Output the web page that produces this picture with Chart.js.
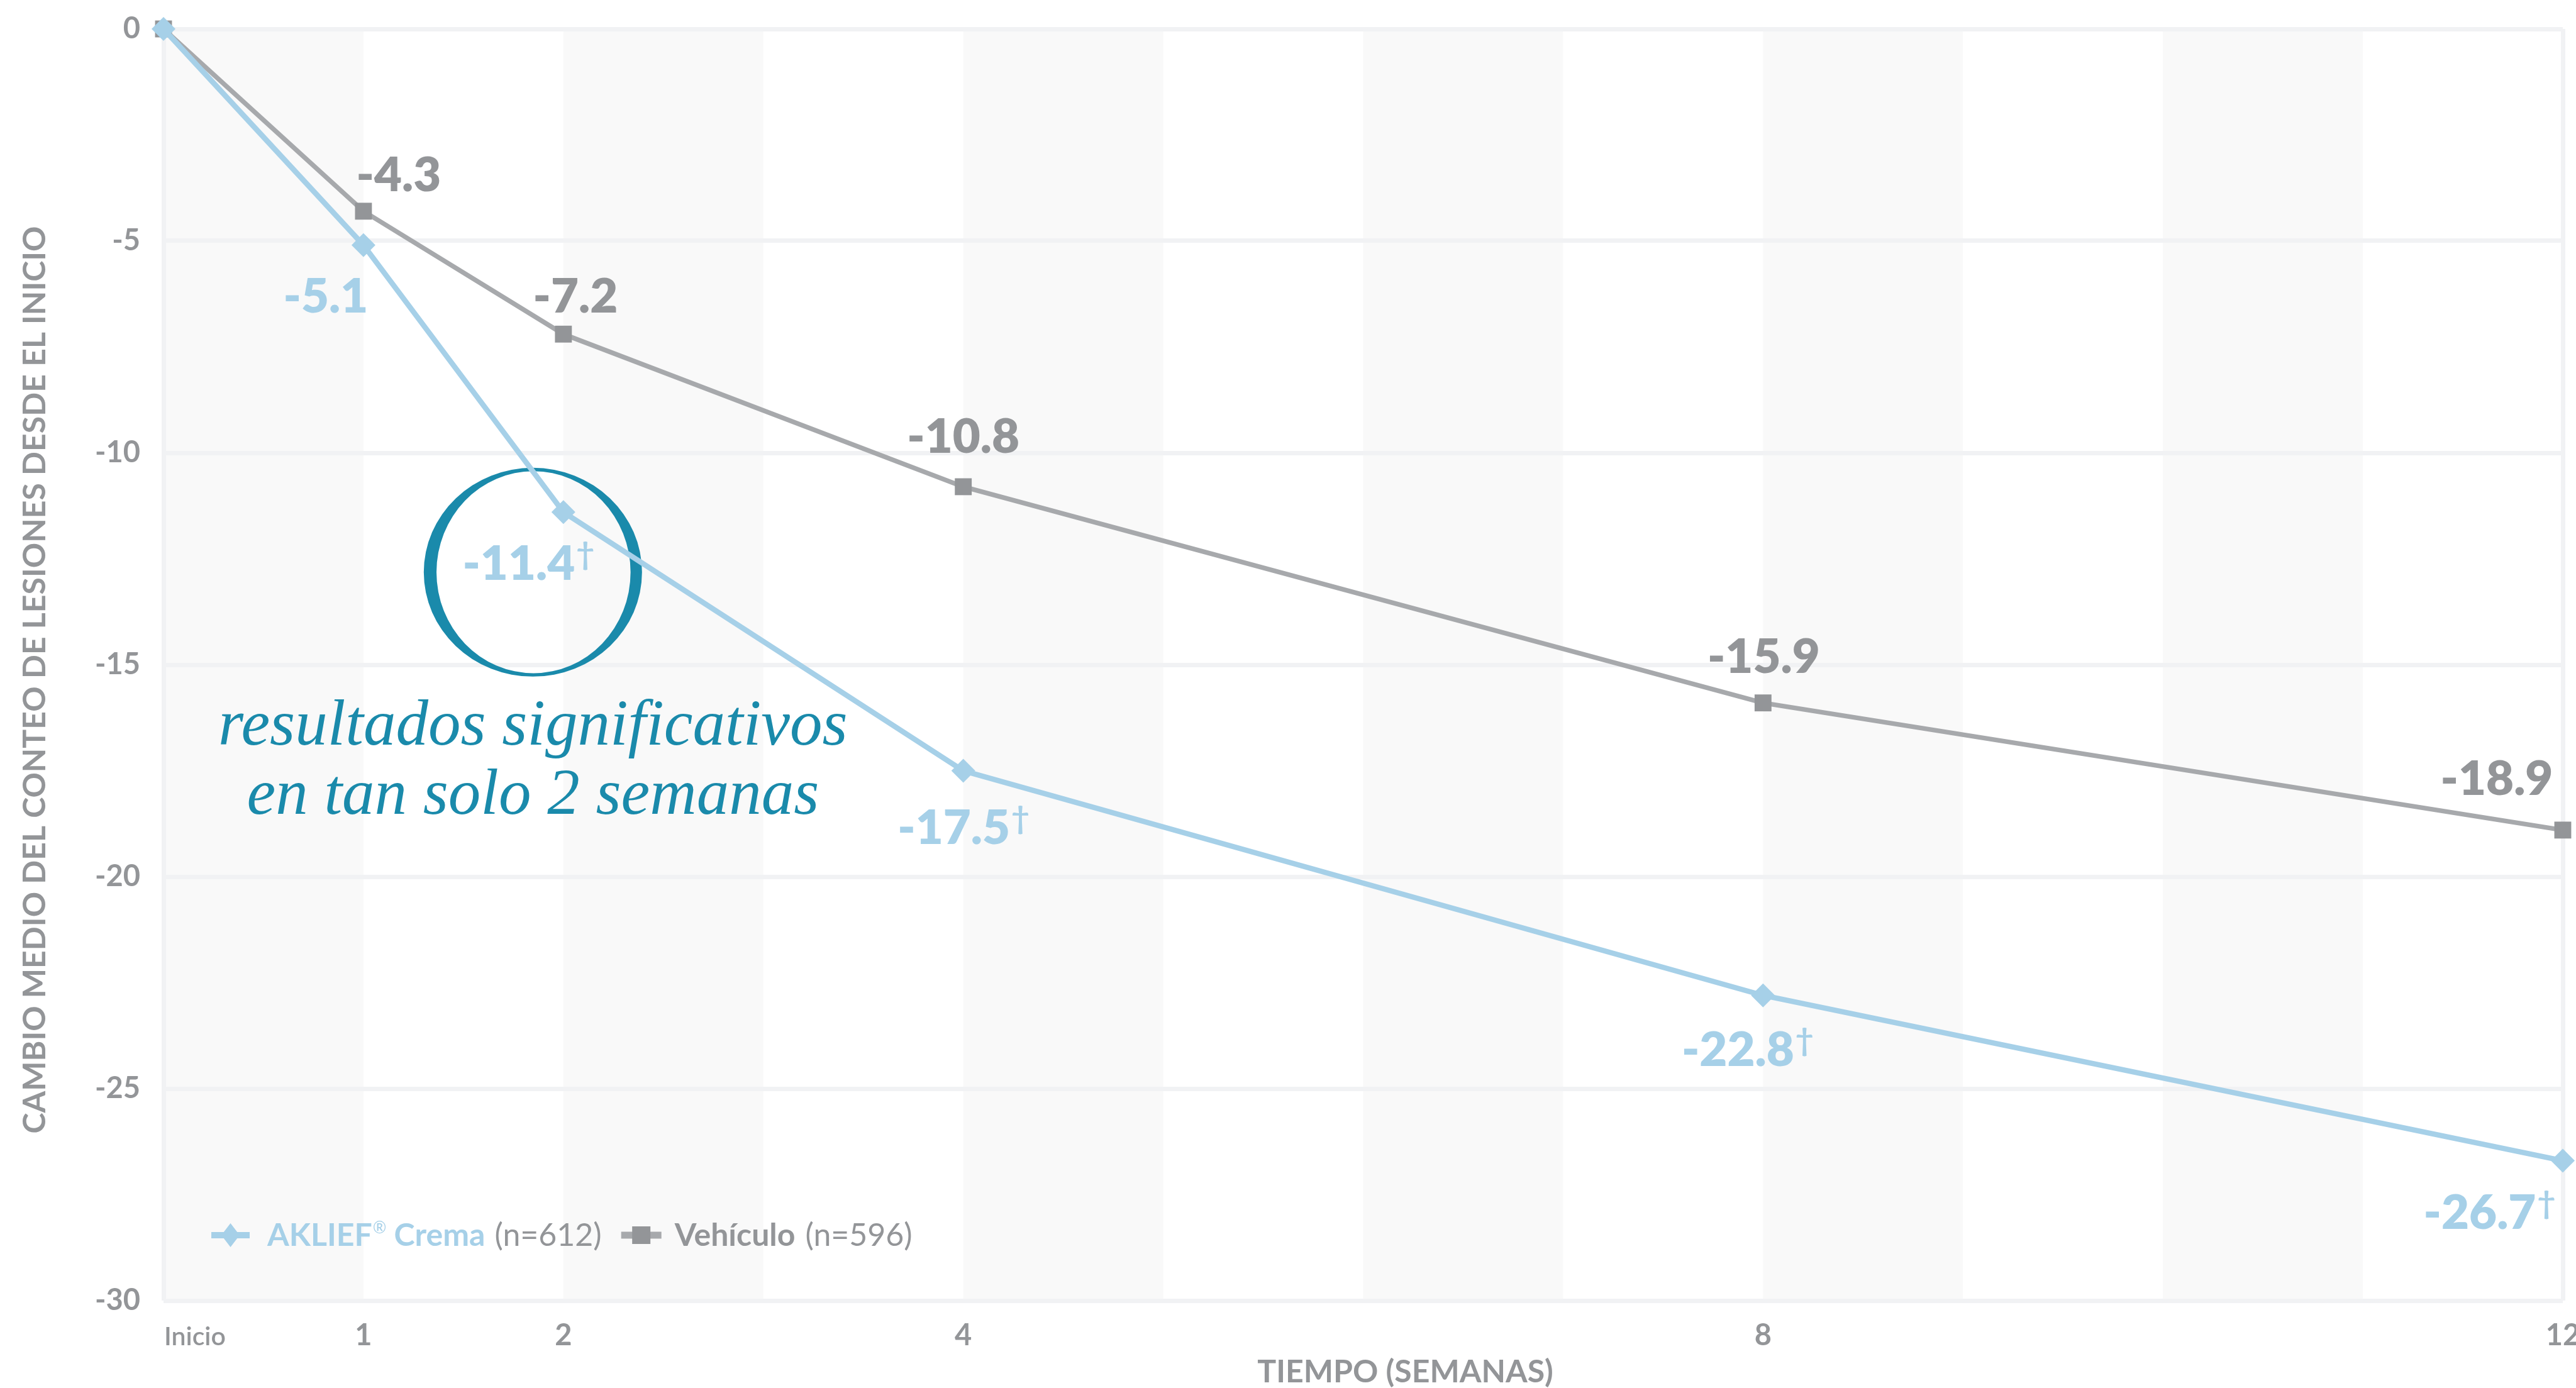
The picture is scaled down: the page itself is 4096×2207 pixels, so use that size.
<!DOCTYPE html>
<html><head><meta charset="utf-8">
<script src="https://cdn.jsdelivr.net/npm/chart.js@4.4.1/dist/chart.umd.min.js"></script>
<style>html,body{margin:0;padding:0;background:#fff;overflow:hidden}canvas{display:block}</style>
</head><body>
<canvas id="c" width="4096" height="2207" style="width:4096px;height:2207px"></canvas>
<script>
// ---- data ----
const weeks = [0, 1, 2, 4, 8, 12];
const xTickLabels = ['Inicio', '1', '2', '4', '8', '12'];
const yTickValues = [0, -5, -10, -15, -20, -25, -30];
const akliefValues = [0, -5.1, -11.4, -17.5, -22.8, -26.7];
const vehiculoValues = [0, -4.3, -7.2, -10.8, -15.9, -18.9];
const akliefSignificant = [false, false, true, true, true, true];
const seriesNames = ['AKLIEF® Crema', 'Vehículo'];
const seriesCounts = ['(n=612)', '(n=596)'];
const xTitle = 'TIEMPO (SEMANAS)';
const yTitle = 'CAMBIO MEDIO DEL CONTEO DE LESIONES DESDE EL INICIO';
const calloutLines = ['resultados significativos', 'en tan solo 2 semanas'];

// ---- styles ----
const BLUE = '#a6d0e8';
const GRAY_LINE = '#a7a9ac';
const GRAY_MARK = '#939598';
const TEXT_GRAY = '#939598';
const TEAL = '#1a8aab';
const GRID = '#f1f2f4';
const STRIPE = '#f9f9f9';
const SANS = 'Lato, "Open Sans", sans-serif';
const SERIF = '"Liberation Serif", "DejaVu Serif", serif';

// label placement (pixel offsets from each point: [dx of number centre, dy of baseline])
const grayLabelOffsets = [null, [56, -32], [19, -34], [0, -54], [1, -48], [-105, -56]];
const blueLabelOffsets = [null, [-60, 107], [-71, 108], [-15, 116], [-40, 112], [-132, 108]];

const customPlugin = {
  id: 'custom',
  beforeDraw(chart) {
    const { ctx, chartArea: a, scales: { x } } = chart;
    ctx.save();
    ctx.fillStyle = STRIPE;
    for (let w = x.min; w < x.max; w += 2) {
      const x1 = x.getPixelForValue(w), x2 = x.getPixelForValue(w + 1);
      ctx.fillRect(x1, a.top, x2 - x1, a.bottom - a.top);
    }
    ctx.restore();
  },
  beforeDatasetsDraw(chart) {
    // callout ring around week-2 AKLIEF value
    const { ctx } = chart;
    const p = chart.getDatasetMeta(0).data[2];
    const cx = p.x - 48.5, cy = p.y + 95.5;
    ctx.save();
    ctx.fillStyle = TEAL;
    ctx.beginPath();
    ctx.ellipse(cx, cy, 173.5, 166, 0, 0, Math.PI * 2);
    ctx.moveTo(cx + 154.3, cy);
    ctx.ellipse(cx + 1, cy, 154.3, 160.6, 0, 0, Math.PI * 2);
    ctx.fill('evenodd');
    ctx.restore();
  },
  afterDatasetsDraw(chart) {
    const { ctx, chartArea: a, scales: { x } } = chart;
    ctx.save();
    // data labels
    const mBlue = chart.getDatasetMeta(0).data;
    const mGray = chart.getDatasetMeta(1).data;
    ctx.textBaseline = 'alphabetic';
    vehiculoValues.forEach((v, i) => {
      const off = grayLabelOffsets[i]; if (!off) return;
      const p = mGray[i];
      ctx.font = '800 76px ' + SANS;
      ctx.fillStyle = TEXT_GRAY;
      ctx.textAlign = 'center';
      ctx.fillText(v.toFixed(1), p.x + off[0], p.y + off[1]);
    });
    akliefValues.forEach((v, i) => {
      const off = blueLabelOffsets[i]; if (!off) return;
      const p = mBlue[i];
      const t = v.toFixed(1);
      ctx.font = '800 76px ' + SANS;
      ctx.fillStyle = BLUE;
      ctx.textAlign = 'center';
      const cxl = p.x + off[0], by = p.y + off[1];
      ctx.fillText(t, cxl, by);
      if (akliefSignificant[i]) {
        const w = ctx.measureText(t).width;
        ctx.font = '700 50px ' + SANS;
        ctx.textAlign = 'left';
        ctx.fillText('\u2020', cxl + w / 2 + 2, by - 24);
      }
    });
    // x tick labels
    const tickY = a.bottom + 71;
    weeks.forEach((w, i) => {
      const px = x.getPixelForValue(w);
      if (i === 0) {
        ctx.font = '600 41px ' + SANS; ctx.textAlign = 'left';
        ctx.fillStyle = TEXT_GRAY; ctx.fillText(xTickLabels[i], px + 1, tickY);
      } else {
        ctx.font = '700 47px ' + SANS; ctx.textAlign = 'center';
        ctx.fillStyle = TEXT_GRAY; ctx.fillText(xTickLabels[i], px, tickY);
      }
    });
    // x title
    ctx.font = '700 50px ' + SANS; ctx.textAlign = 'center'; ctx.fillStyle = TEXT_GRAY;
    ctx.fillText(xTitle, (a.left + a.right) / 2 + 67, a.bottom + 130);
    // y title
    ctx.save();
    ctx.translate(56, (a.top + a.bottom) / 2 + 24);
    ctx.rotate(-Math.PI / 2);
    ctx.font = '700 50px ' + SANS; ctx.textAlign = 'center'; ctx.textBaseline = 'middle';
    ctx.fillText(yTitle, 0, 0);
    ctx.restore();
    // legend
    ctx.textBaseline = 'alphabetic'; ctx.textAlign = 'left';
    let lx = a.left + 76; const ly = a.bottom - 87; const my = ly - 17;
    ctx.strokeStyle = BLUE; ctx.lineWidth = 10; ctx.lineCap = 'butt';
    ctx.beginPath(); ctx.moveTo(lx, my); ctx.lineTo(lx + 61, my); ctx.stroke();
    ctx.fillStyle = BLUE; ctx.beginPath();
    ctx.moveTo(lx + 30.5, my - 19); ctx.lineTo(lx + 45, my); ctx.lineTo(lx + 30.5, my + 19); ctx.lineTo(lx + 16, my); ctx.closePath(); ctx.fill();
    lx += 61 + 28;
    const nameParts = seriesNames[0].split('®');
    ctx.font = '700 50px ' + SANS; ctx.fillStyle = BLUE;
    ctx.fillText(nameParts[0], lx, ly); lx += ctx.measureText(nameParts[0]).width + 1;
    ctx.font = '400 26px ' + SANS; ctx.fillText('®', lx, ly - 20); lx += ctx.measureText('®').width;
    ctx.font = '700 50px ' + SANS; ctx.fillText(nameParts[1], lx, ly); lx += ctx.measureText(nameParts[1]).width + 15;
    ctx.font = '400 50px ' + SANS; ctx.fillStyle = TEXT_GRAY;
    ctx.fillText(seriesCounts[0], lx, ly); lx += ctx.measureText(seriesCounts[0]).width + 31;
    ctx.strokeStyle = GRAY_LINE; ctx.lineWidth = 11;
    ctx.beginPath(); ctx.moveTo(lx, my); ctx.lineTo(lx + 64, my); ctx.stroke();
    ctx.fillStyle = GRAY_MARK; ctx.fillRect(lx + 32 - 14.5, my - 14, 29, 28);
    lx += 64 + 21;
    ctx.font = '700 50px ' + SANS; ctx.fillStyle = TEXT_GRAY;
    ctx.fillText(seriesNames[1], lx, ly); lx += ctx.measureText(seriesNames[1]).width + 16;
    ctx.font = '400 50px ' + SANS;
    ctx.fillText(seriesCounts[1], lx, ly);
    // callout text
    const p2 = mBlue[2];
    ctx.font = 'italic 400 103px ' + SERIF; ctx.fillStyle = TEAL; ctx.textAlign = 'center';
    ctx.fillText(calloutLines[0], p2.x - 48.5, p2.y + 370);
    ctx.fillText(calloutLines[1], p2.x - 48.5, p2.y + 480);
    ctx.restore();
  }
};

const chart = new Chart(document.getElementById('c').getContext('2d'), {
  type: 'line',
  data: {
    datasets: [
      {
        label: seriesNames[0],
        data: weeks.map((w, i) => ({ x: w, y: akliefValues[i] })),
        borderColor: BLUE, backgroundColor: BLUE, borderWidth: 8.5,
        pointStyle: 'rectRot', pointRadius: 19, pointBorderWidth: 0,
        pointBackgroundColor: BLUE, clip: false, tension: 0
      },
      {
        label: seriesNames[1],
        data: weeks.map((w, i) => ({ x: w, y: vehiculoValues[i] })),
        borderColor: GRAY_LINE, backgroundColor: GRAY_MARK, borderWidth: 7.5,
        pointStyle: 'rect', pointRadius: 19, pointBorderWidth: 0,
        pointBackgroundColor: GRAY_MARK, clip: false, tension: 0
      }
    ]
  },
  options: {
    responsive: false, animation: false, devicePixelRatio: 1, events: [],
    layout: { padding: { left: 0, right: 21, top: 46, bottom: 0 }, autoPadding: false },
    plugins: { legend: { display: false }, tooltip: { enabled: false } },
    scales: {
      x: {
        type: 'linear', min: 0, max: 12, position: 'bottom',
        ticks: { display: false, stepSize: 12 },
        grid: { color: GRID, lineWidth: 7, drawTicks: false },
        border: { display: false },
        afterFit: s => { s.height = 139; s.paddingLeft = 0; s.paddingRight = 0; }
      },
      y: {
        type: 'linear', min: -30, max: 0, position: 'left',
        afterBuildTicks: s => { s.ticks = yTickValues.map(v => ({ value: v })); },
        ticks: { color: TEXT_GRAY, font: { family: SANS, size: 47, weight: 'bold' }, padding: 37, callback: v => String(v) },
        grid: { color: GRID, lineWidth: 7, drawTicks: false },
        border: { display: false },
        afterFit: s => { s.width = 260; s.paddingTop = 0; s.paddingBottom = 0; }
      }
    }
  },
  plugins: [customPlugin]
});
</script>
</body></html>
